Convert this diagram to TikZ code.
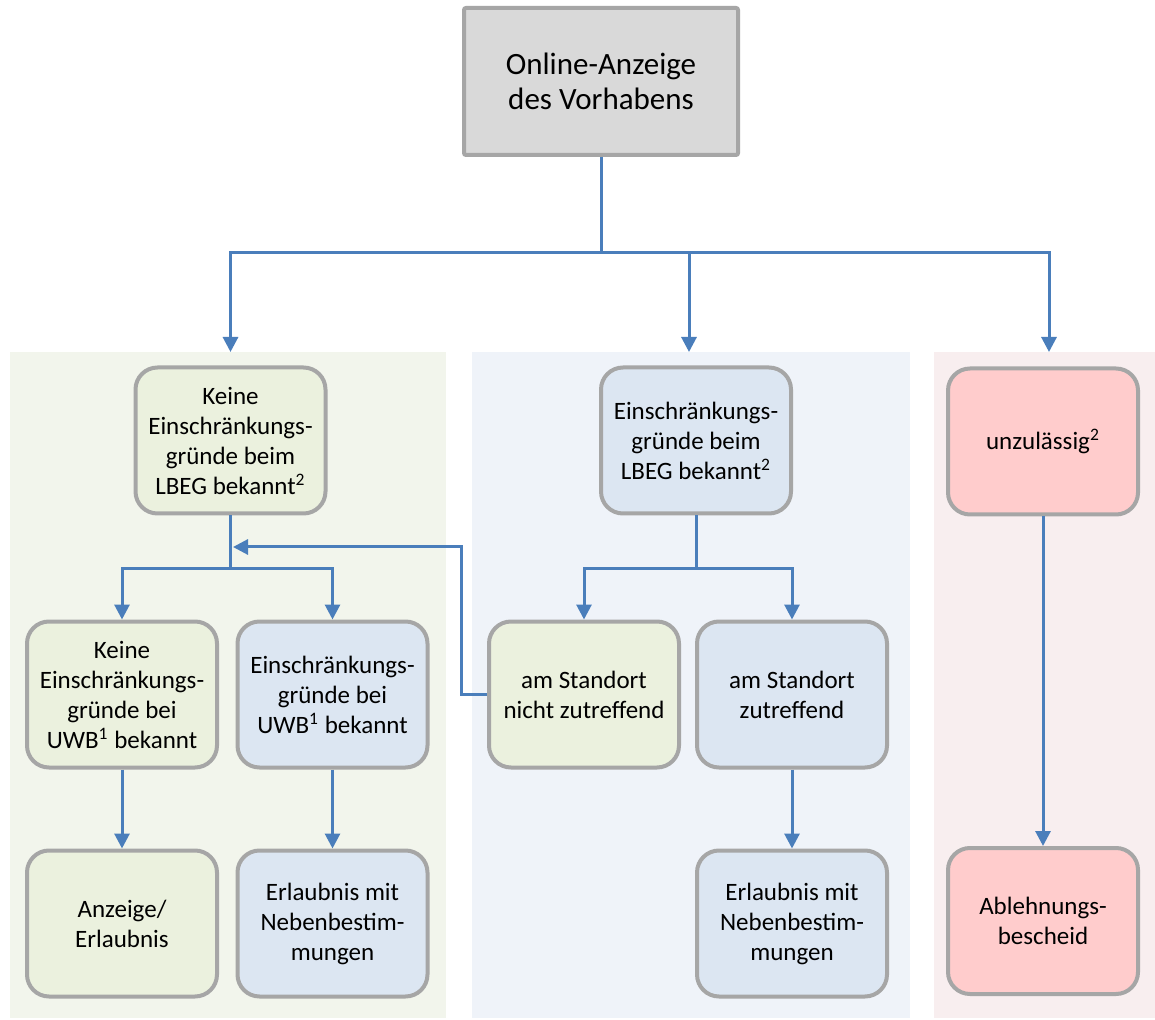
\documentclass[tikz,border=0pt]{standalone}
\usepackage{fontspec}
\setmainfont{Carlito}
\usetikzlibrary{arrows.meta,positioning}
\definecolor{linkblue}{HTML}{4A7EBB}
\definecolor{boxline}{HTML}{A6A6A6}
\definecolor{greybox}{HTML}{D9D9D9}
\definecolor{greenbox}{HTML}{EBF1DE}
\definecolor{bluebox}{HTML}{DCE6F2}
\definecolor{redbox}{HTML}{FFCCCC}
\definecolor{greenpanel}{HTML}{F2F5EC}
\definecolor{bluepanel}{HTML}{EFF3F9}
\definecolor{redpanel}{HTML}{F8EEEF}

\begin{document}
\begin{tikzpicture}[x=0.5pt, y=-0.5pt,
    every node/.style={font=\fontsize{12.5pt}{15pt}\selectfont, align=center, inner sep=2pt},
    box/.style={draw=boxline, line width=2pt, rounded corners=11pt, minimum width=95pt, minimum height=73pt},
    panel/.style={anchor=north west, minimum height=333pt, inner sep=0pt},
    link/.style={linkblue, line width=1.5pt},
    flow/.style={link, -{Triangle[width=7.5pt,length=7.5pt]}}]
\useasboundingbox (0,0) rectangle (1155,1020);
\fill[white] (0,0) rectangle (1155,1020);
% Background panels
\node[panel, fill=greenpanel, minimum width=218pt] (greenarea) at (10,352) {};
\node[panel, fill=bluepanel, minimum width=219pt] (bluearea) at (472,352) {};
\node[panel, fill=redpanel, minimum width=110.5pt] (redarea) at (934,352) {};
% Start
\node[box, fill=greybox, rounded corners=1pt, minimum width=137pt, minimum height=73.5pt,
  font=\fontsize{15.5pt}{17.5pt}\selectfont] (online) at (601,81.5) {Online-Anzeige\\des Vorhabens};
% First level
\node[box, fill=greenbox] (lbegno) at (230.5,440.5) {Keine\\Einschränkungs-\\gründe beim\\LBEG bekannt\textsuperscript{2}};
\node[box, fill=bluebox] (lbegyes) at (696,440.5) {Einschränkungs-\\gründe beim\\LBEG bekannt\textsuperscript{2}};
\node[box, fill=redbox] (unzul) at (1043,441.5) {unzulässig\textsuperscript{2}};
% Second level
\node[box, fill=greenbox] (uwbno) at (122,694.5) {Keine\\Einschränkungs-\\gründe bei\\UWB\textsuperscript{1} bekannt};
\node[box, fill=bluebox] (uwbyes) at (332.5,694.5) {Einschränkungs-\\gründe bei\\UWB\textsuperscript{1} bekannt};
\node[box, fill=greenbox] (nicht) at (584,694.5) {am Standort\\nicht zutreffend};
\node[box, fill=bluebox] (zutr) at (792,694.5) {am Standort\\zutreffend};
% Results
\node[box, fill=greenbox, below=39.5pt of uwbno] (anzeige) {Anzeige/\\Erlaubnis};
\node[box, fill=bluebox, below=39.5pt of uwbyes] (neben1) {Erlaubnis mit\\Nebenbestim-\\mungen};
\node[box, fill=bluebox, below=39.5pt of zutr] (neben2) {Erlaubnis mit\\Nebenbestim-\\mungen};
\node[box, fill=redbox] (ablehnung) at (1043,921) {Ablehnungs-\\bescheid};
% Connectors
\coordinate (topsplit) at (601,253);
\draw[link] (online.south) -- (topsplit);
\draw[flow] (topsplit) -| (lbegno |- greenarea.north);
\draw[flow] (topsplit) -| ([xshift=-3.5pt]lbegyes.north |- bluearea.north);
\draw[flow] (topsplit) -| ([xshift=3pt]unzul.north |- redarea.north);
\draw[link] (lbegno.south) -- ++(0,53) coordinate (leftsplit);
\draw[flow] (leftsplit) -| (uwbno.north);
\draw[flow] (leftsplit) -| (uwbyes.north);
\draw[link] (lbegyes.south) -- ++(0,53) coordinate (midsplit);
\draw[flow] (midsplit) -| (nicht.north);
\draw[flow] (midsplit) -| (zutr.north);
\coordinate (rejoin) at (233,547);
\draw[flow] (nicht.west) -- ++(-26,0) |- (rejoin);
\draw[flow] (uwbno) -- (anzeige);
\draw[flow] (uwbyes) -- (neben1);
\draw[flow] (zutr) -- (neben2);
\draw[flow] (unzul) -- (ablehnung);
\end{tikzpicture}
\end{document}
